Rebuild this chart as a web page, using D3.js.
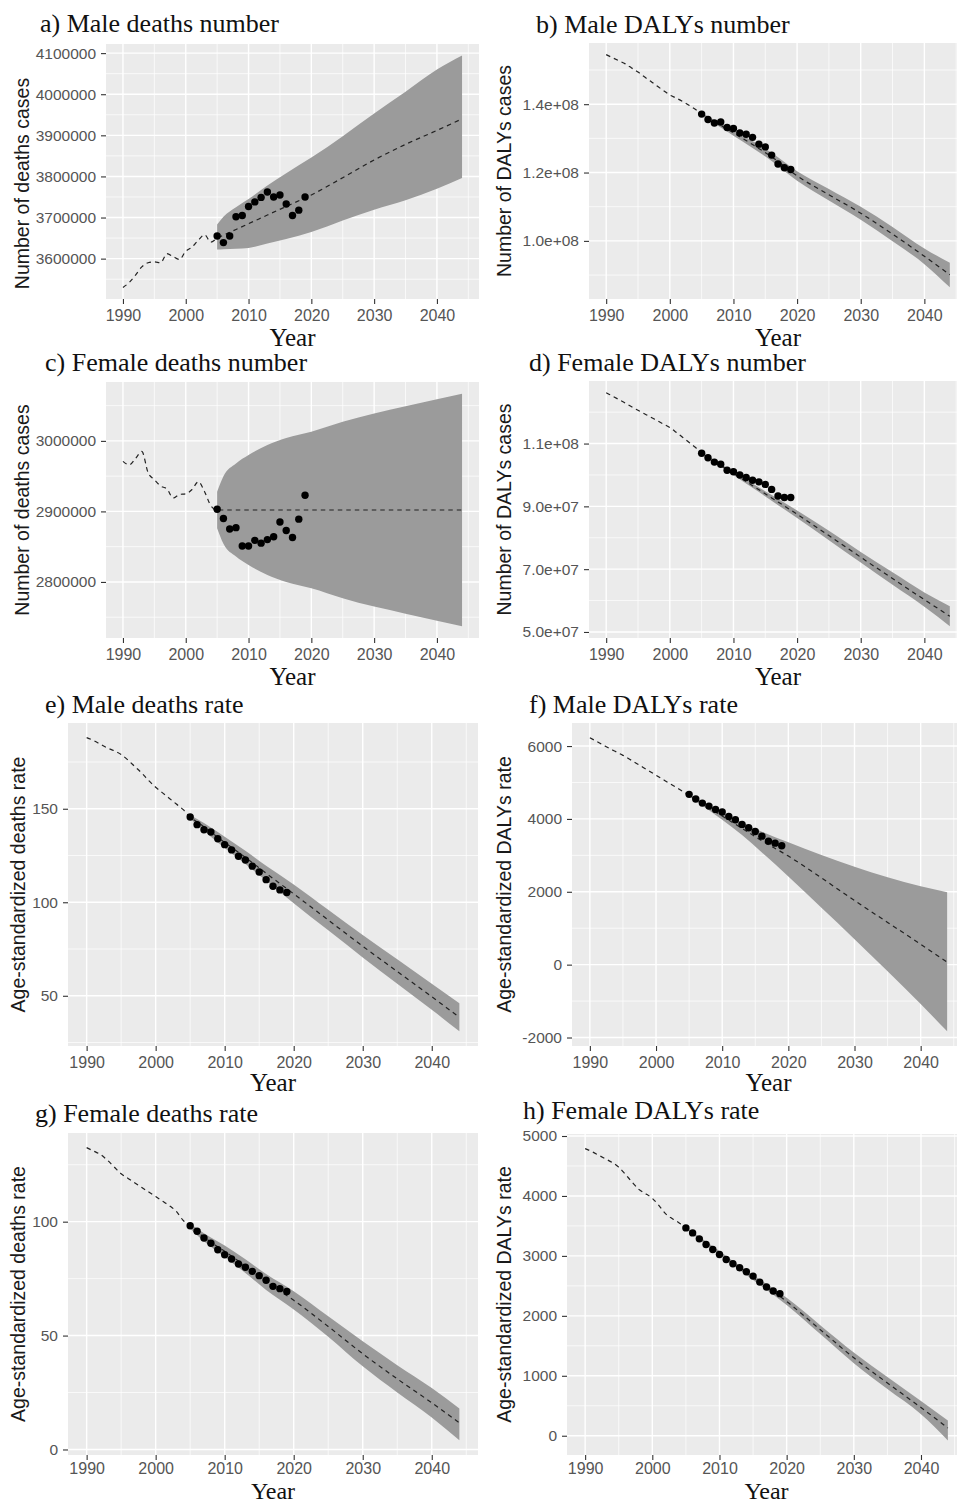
<!DOCTYPE html>
<html>
<head>
<meta charset="utf-8">
<script src="https://cdn.jsdelivr.net/npm/d3@7"></script>
<style>
  body { margin: 0; background: #fff; }
  svg { display: block; }
</style>
</head>
<body>
<svg id="chart" width="957" height="1504"></svg>
<script>
// ---- Shared years ----
var histYears = [1990, 1991, 1992, 1993, 1994, 1995, 1996, 1997, 1998, 1999, 2000, 2001, 2002, 2003, 2004];
var bandYears = [2005, 2006, 2008, 2010, 2013, 2016, 2020, 2025, 2030, 2035, 2040, 2044];
var pointYears = [2005, 2006, 2007, 2008, 2009, 2010, 2011, 2012, 2013, 2014, 2015, 2016, 2017, 2018, 2019];
var xTicks = [1990, 2000, 2010, 2020, 2030, 2040];

// ---- a) Male deaths number ----
var aHist = [3530000, 3542000, 3560000, 3580000, 3590000, 3592000, 3590000, 3612000, 3605000, 3598000, 3618000, 3628000, 3645000, 3658000, 3640000];
var aFit = [3650000, 3657000, 3671000, 3685000, 3706000, 3727000, 3755000, 3797000, 3840000, 3878000, 3912000, 3940000];
var aLower = [3622000, 3623000, 3624000, 3626000, 3637000, 3648000, 3665000, 3693000, 3719000, 3742000, 3770000, 3796000];
var aUpper = [3683000, 3702000, 3725000, 3745000, 3778000, 3808000, 3846000, 3898000, 3953000, 4006000, 4060000, 4094000];
var aPoints = [3655000, 3639000, 3655000, 3702000, 3705000, 3727000, 3738000, 3749000, 3762000, 3750000, 3755000, 3733000, 3705000, 3718000, 3750000];
var aTicks = [3600000, 3700000, 3800000, 3900000, 4000000, 4100000];

// ---- b) Male DALYs number ----
var bHist = [1.545e8, 1.536e8, 1.527e8, 1.518e8, 1.506e8, 1.494e8, 1.480e8, 1.467e8, 1.453e8, 1.440e8, 1.427e8, 1.418e8, 1.408e8, 1.397e8, 1.385e8];
var bFit = [1.372e8, 1.360e8, 1.338e8, 1.316e8, 1.282e8, 1.246e8, 1.190e8, 1.135e8, 1.081e8, 1.020e8, 0.955e8, 0.901e8];
var bLower = [1.370e8, 1.356e8, 1.332e8, 1.308e8, 1.272e8, 1.234e8, 1.176e8, 1.118e8, 1.062e8, 0.999e8, 0.932e8, 0.864e8];
var bUpper = [1.376e8, 1.364e8, 1.344e8, 1.324e8, 1.292e8, 1.258e8, 1.204e8, 1.152e8, 1.100e8, 1.041e8, 0.978e8, 0.936e8];
var bPoints = [1.371e8, 1.355e8, 1.345e8, 1.348e8, 1.332e8, 1.329e8, 1.316e8, 1.312e8, 1.303e8, 1.283e8, 1.275e8, 1.251e8, 1.225e8, 1.214e8, 1.209e8];
var bTicks = [1.0e8, 1.2e8, 1.4e8];

// ---- c) Female deaths number ----
var cHist = [2971000, 2966000, 2975000, 2985000, 2955000, 2945000, 2936000, 2932000, 2919000, 2924000, 2925000, 2931000, 2942000, 2928000, 2908000];
var cFit = [2902000, 2902000, 2902000, 2902000, 2902000, 2902000, 2902000, 2902000, 2902000, 2902000, 2902000, 2902000];
var cLower = [2876000, 2854000, 2836000, 2824000, 2810000, 2800000, 2791000, 2777000, 2765000, 2755000, 2745000, 2737000];
var cUpper = [2928000, 2950000, 2968000, 2980000, 2994000, 3004000, 3013000, 3027000, 3039000, 3049000, 3059000, 3067000];
var cPoints = [2903000, 2890000, 2875000, 2877000, 2851000, 2851000, 2859000, 2855000, 2860000, 2864000, 2885000, 2873000, 2863000, 2889000, 2923000];
var cTicks = [2800000, 2900000, 3000000];

// ---- d) Female DALYs number ----
var dHist = [1.262e8, 1.251e8, 1.240e8, 1.229e8, 1.217e8, 1.206e8, 1.195e8, 1.184e8, 1.173e8, 1.162e8, 1.151e8, 1.136e8, 1.120e8, 1.104e8, 1.088e8];
var dFit = [1.070e8, 1.057e8, 1.031e8, 1.005e8, 0.966e8, 0.927e8, 0.875e8, 0.807e8, 0.738e8, 0.670e8, 0.603e8, 0.550e8];
var dLower = [1.068e8, 1.054e8, 1.027e8, 1.000e8, 0.959e8, 0.918e8, 0.863e8, 0.792e8, 0.721e8, 0.650e8, 0.580e8, 0.518e8];
var dUpper = [1.072e8, 1.060e8, 1.035e8, 1.010e8, 0.973e8, 0.936e8, 0.887e8, 0.822e8, 0.755e8, 0.690e8, 0.626e8, 0.582e8];
var dPoints = [1.069e8, 1.055e8, 1.041e8, 1.034e8, 1.015e8, 1.010e8, 1.000e8, 0.992e8, 0.983e8, 0.978e8, 0.970e8, 0.954e8, 0.933e8, 0.928e8, 0.928e8];
var dTicks = [5.0e7, 7.0e7, 9.0e7, 1.1e8];

// ---- e) Male deaths rate ----
var eHist = [188, 186.5, 184.5, 182.5, 181, 179, 176, 172.5, 169, 165, 161.5, 158.5, 155.5, 152.5, 149.5];
var eFit = [145.5, 143, 137.5, 132, 124, 115.5, 104.5, 90.5, 76.5, 63, 49.5, 38.5];
var eLower = [144.5, 141.5, 135, 129, 120.5, 111.5, 99.5, 85, 70.5, 56.5, 42.5, 31];
var eUpper = [146.5, 144.5, 140, 135, 127.5, 119.5, 109.5, 96, 82.5, 69.5, 56.5, 46];
var ePoints = [145.6, 141.5, 138.8, 137.6, 134, 130.8, 128, 124.6, 122.6, 119.3, 116.2, 112.1, 108.6, 106.6, 105.2];
var eTicks = [50, 100, 150];

// ---- f) Male DALYs rate ----
var fHist = [6230, 6130, 6030, 5930, 5840, 5745, 5640, 5530, 5420, 5310, 5200, 5090, 4980, 4870, 4760];
var fFit = [4650, 4530, 4300, 4080, 3740, 3400, 2980, 2380, 1760, 1160, 560, 70];
var fLower = [4620, 4490, 4240, 3980, 3560, 3080, 2420, 1560, 700, -180, -1080, -1830];
var fUpper = [4680, 4580, 4380, 4180, 3900, 3650, 3360, 3010, 2690, 2400, 2150, 1990];
var fPoints = [4674, 4545, 4435, 4352, 4261, 4188, 4069, 3978, 3849, 3758, 3656, 3527, 3390, 3335, 3263];
var fTicks = [-2000, 0, 2000, 4000, 6000];

// ---- g) Female deaths rate ----
var gHist = [132.5, 131, 129.5, 127, 124, 121, 119, 117, 115, 113, 111, 109, 107, 104.5, 100.5];
var gFit = [98, 95.5, 91, 87, 80.5, 73.5, 65.5, 54, 42, 31, 20.5, 11.7];
var gLower = [97, 94, 89, 84.5, 77.5, 70, 61.5, 49.5, 36.5, 25, 14, 4];
var gUpper = [99, 97, 93, 89.5, 83.5, 77, 69.5, 58.5, 47.5, 37, 27, 18];
var gPoints = [98.2, 95.8, 92.8, 90.5, 87.7, 85.5, 83.6, 81.4, 80, 78.2, 76.3, 74.3, 71.6, 70.6, 69.4];
var gTicks = [0, 50, 100];

// ---- h) Female DALYs rate ----
var hHist = [4790, 4740, 4680, 4620, 4560, 4480, 4360, 4230, 4110, 4040, 3960, 3840, 3700, 3620, 3550];
var hFit = [3465, 3380, 3215, 3050, 2800, 2560, 2240, 1770, 1300, 880, 470, 130];
var hLower = [3450, 3360, 3190, 3020, 2765, 2515, 2180, 1695, 1210, 780, 360, -78];
var hUpper = [3480, 3400, 3240, 3080, 2835, 2605, 2300, 1845, 1390, 980, 580, 254];
var hPoints = [3467, 3384, 3284, 3189, 3106, 3023, 2940, 2868, 2802, 2735, 2663, 2563, 2480, 2414, 2370];
var hTicks = [0, 1000, 2000, 3000, 4000, 5000];

// Tick formats
var fmtPlain = v => String(v);
var fmtSci = function(v) {
    var parts = v.toExponential(1).split('e');
    var ex = parts[1];
    return parts[0] + 'e' + ex[0] + ex.slice(1).padStart(2, '0');
};

var numLab = 'Number of deaths cases';
var dalyNumLab = 'Number of DALYs cases';
var rateLab = 'Age-standardized deaths rate';
var dalyRateLab = 'Age-standardized DALYs rate';

// Layout per row: x-tick padding, "Year" offset and size.
var rowTop = { tickPad: 6, yearDy: 47, yearSize: 25 };
var rowMid = { tickPad: 6, yearDy: 45, yearSize: 25 };
var rowBot = { tickPad: 3, yearDy: 43.5, yearSize: 24 };

var panels = [
    { title: 'a) Male deaths number', ylab: numLab, hist: aHist, fit: aFit, lower: aLower, upper: aUpper, points: aPoints, ticks: aTicks, fmt: fmtPlain,
      box: { left: 106, right: 479, top: 44, bottom: 299 }, titleX: 40, titleY: 32, ylabX: 29, ylabDy: 12, row: rowTop },
    { title: 'b) Male DALYs number', ylab: dalyNumLab, hist: bHist, fit: bFit, lower: bLower, upper: bUpper, points: bPoints, ticks: bTicks, fmt: fmtSci,
      box: { left: 589, right: 967, top: 43, bottom: 299 }, titleX: 536, titleY: 33, ylabX: 511, ylabDy: 0, row: rowTop },
    { title: 'c) Female deaths number', ylab: numLab, hist: cHist, fit: cFit, lower: cLower, upper: cUpper, points: cPoints, ticks: cTicks, fmt: fmtPlain,
      box: { left: 106, right: 479, top: 382, bottom: 638 }, titleX: 45, titleY: 371, ylabX: 29, ylabDy: 0, row: rowTop },
    { title: 'd) Female DALYs number', ylab: dalyNumLab, hist: dHist, fit: dFit, lower: dLower, upper: dUpper, points: dPoints, ticks: dTicks, fmt: fmtSci,
      box: { left: 589, right: 967, top: 381, bottom: 638 }, titleX: 529, titleY: 371, ylabX: 511, ylabDy: 0, row: rowTop },
    { title: 'e) Male deaths rate', ylab: rateLab, hist: eHist, fit: eFit, lower: eLower, upper: eUpper, points: ePoints, ticks: eTicks, fmt: fmtPlain,
      box: { left: 68, right: 478, top: 723, bottom: 1046 }, titleX: 45, titleY: 713, ylabX: 25, ylabDy: 0, row: rowMid },
    { title: 'f) Male DALYs rate', ylab: dalyRateLab, hist: fHist, fit: fFit, lower: fLower, upper: fUpper, points: fPoints, ticks: fTicks, fmt: fmtPlain,
      box: { left: 572, right: 965, top: 723, bottom: 1046 }, titleX: 529, titleY: 713, ylabX: 511, ylabDy: 0, row: rowMid },
    { title: 'g) Female deaths rate', ylab: rateLab, hist: gHist, fit: gFit, lower: gLower, upper: gUpper, points: gPoints, ticks: gTicks, fmt: fmtPlain,
      box: { left: 68, right: 478, top: 1133, bottom: 1455 }, titleX: 35, titleY: 1122, ylabX: 25, ylabDy: 0, row: rowBot },
    { title: 'h) Female DALYs rate', ylab: dalyRateLab, hist: hHist, fit: hFit, lower: hLower, upper: hUpper, points: hPoints, ticks: hTicks, fmt: fmtPlain,
      box: { left: 567, right: 966, top: 1134, bottom: 1455 }, titleX: 523, titleY: 1119, ylabX: 511, ylabDy: 0, row: rowBot }
];

var svg = d3.select('#chart');
var serif = '"Liberation Serif", "Times New Roman", serif';
var sans = '"Liberation Sans", Arial, sans-serif';

// ggplot-like expansion: 5% of the range on each side.
function expand(lo, hi) {
    var pad = (hi - lo) * 0.05;
    return [lo - pad, hi + pad];
}

// Minor breaks halfway between majors (and one step beyond either end).
function minorBreaks(ticks, domain) {
    var step = ticks[1] - ticks[0];
    var out = [ticks[0] - step / 2];
    ticks.forEach(t => out.push(t + step / 2));
    return out.filter(v => v > domain[0] && v < domain[1]);
}

function drawPanel(p) {
    var b = p.box;
    var g = svg.append('g');

    var allYears = histYears.concat(bandYears);
    var x = d3.scaleLinear()
        .domain(expand(d3.min(allYears), d3.max(allYears)))
        .range([b.left, b.right]);

    var allVals = p.hist.concat(p.fit, p.lower, p.upper, p.points);
    var y = d3.scaleLinear()
        .domain(expand(d3.min(allVals), d3.max(allVals)))
        .range([b.bottom, b.top]);

    // Panel background.
    g.append('rect')
        .attr('x', b.left).attr('y', b.top)
        .attr('width', b.right - b.left).attr('height', b.bottom - b.top)
        .attr('fill', '#ebebeb');

    // Grid lines.
    var grid = g.append('g').attr('stroke', '#fff').attr('fill', 'none');
    minorBreaks(p.ticks, y.domain()).forEach(v => {
        grid.append('line').attr('x1', b.left).attr('x2', b.right)
            .attr('y1', y(v)).attr('y2', y(v)).attr('stroke-width', 0.7);
    });
    minorBreaks(xTicks, x.domain()).forEach(v => {
        grid.append('line').attr('y1', b.top).attr('y2', b.bottom)
            .attr('x1', x(v)).attr('x2', x(v)).attr('stroke-width', 0.7);
    });
    p.ticks.forEach(v => {
        grid.append('line').attr('x1', b.left).attr('x2', b.right)
            .attr('y1', y(v)).attr('y2', y(v)).attr('stroke-width', 1.4);
    });
    xTicks.forEach(v => {
        grid.append('line').attr('y1', b.top).attr('y2', b.bottom)
            .attr('x1', x(v)).attr('x2', x(v)).attr('stroke-width', 1.4);
    });

    // Prediction band.
    var bandData = bandYears.map((yr, i) => ({ year: yr, lo: p.lower[i], hi: p.upper[i] }));
    var area = d3.area()
        .x(d => x(d.year))
        .y0(d => y(d.lo))
        .y1(d => y(d.hi))
        .curve(d3.curveMonotoneX);
    g.append('path')
        .datum(bandData)
        .attr('d', area)
        .attr('fill', '#9b9b9b');

    // Dashed line: history then projection.
    var lineData = histYears.map((yr, i) => ({ year: yr, v: p.hist[i] }))
        .concat(bandYears.map((yr, i) => ({ year: yr, v: p.fit[i] })));
    var line = d3.line()
        .x(d => x(d.year))
        .y(d => y(d.v))
        .curve(d3.curveMonotoneX);
    g.append('path')
        .datum(lineData)
        .attr('d', line)
        .attr('fill', 'none')
        .attr('stroke', '#222')
        .attr('stroke-width', 1.2)
        .attr('stroke-dasharray', '4.5,4');

    // Observed points.
    g.selectAll('circle')
        .data(pointYears.map((yr, i) => ({ year: yr, v: p.points[i] })))
        .enter()
        .append('circle')
        .attr('cx', d => x(d.year))
        .attr('cy', d => y(d.v))
        .attr('r', 3.7)
        .attr('fill', '#000');

    // Axes.
    var yAxis = g.append('g')
        .attr('transform', 'translate(' + b.left + ',0)')
        .call(d3.axisLeft(y).tickValues(p.ticks).tickFormat(p.fmt).tickSize(5).tickPadding(5));
    var xAxis = g.append('g')
        .attr('transform', 'translate(0,' + b.bottom + ')')
        .call(d3.axisBottom(x).tickValues(xTicks).tickFormat(d3.format('d')).tickSize(5).tickPadding(p.row.tickPad));
    [yAxis, xAxis].forEach(ax => {
        ax.select('.domain').remove();
        ax.selectAll('.tick line').attr('stroke', '#333').attr('stroke-width', 1.1);
        ax.selectAll('.tick text')
            .attr('fill', '#555')
            .style('font-family', sans);
    });
    yAxis.selectAll('.tick text').style('font-size', '15.5px');
    xAxis.selectAll('.tick text').style('font-size', '16px');

    // Titles.
    g.append('text')
        .attr('x', p.titleX).attr('y', p.titleY)
        .style('font-family', serif).style('font-size', '26px')
        .attr('fill', '#111')
        .text(p.title);

    g.append('text')
        .attr('x', (b.left + b.right) / 2).attr('y', b.bottom + p.row.yearDy)
        .attr('text-anchor', 'middle')
        .style('font-family', serif).style('font-size', p.row.yearSize + 'px')
        .attr('fill', '#111')
        .text('Year');

    var cy = (b.top + b.bottom) / 2 + p.ylabDy;
    g.append('text')
        .attr('transform', 'translate(' + p.ylabX + ',' + cy + ') rotate(-90)')
        .attr('text-anchor', 'middle')
        .style('font-family', sans).style('font-size', '19.5px')
        .attr('fill', '#1a1a1a')
        .text(p.ylab);
}

panels.forEach(drawPanel);
</script>
</body>
</html>
